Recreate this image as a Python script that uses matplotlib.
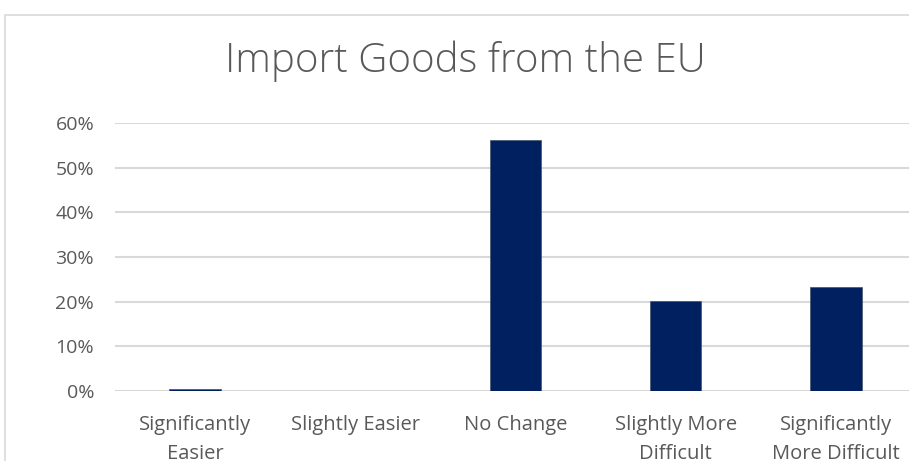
import matplotlib.pyplot as plt
from matplotlib.patches import Rectangle
from matplotlib.ticker import PercentFormatter

# data
categories = ["Significantly\nEasier", "Slightly Easier", "No Change",
              "Slightly More\nDifficult", "Significantly\nMore Difficult"]
shares = [0.005, 0.0, 0.562, 0.201, 0.233]
yticks = [0, 0.1, 0.2, 0.3, 0.4, 0.5, 0.6]

bar_color = "#002060"
text_gray = "#595959"
grid_gray = "#d9d9d9"

plt.rcParams["font.family"] = ["Open Sans", "DejaVu Sans"]

fig = plt.figure(figsize=(9.09, 4.61), dpi=100)

# chart frame (cropped at right and bottom)
fig.patches.append(Rectangle((5 / 909, -0.1), 1.0, 1 - 15 / 461 + 0.1,
                             transform=fig.transFigure, fill=False,
                             edgecolor="#d9d9d9", linewidth=1.2))

ax = fig.add_axes([115 / 909, 1 - 391 / 461, 801 / 909, (391 - 123) / 461])
x = range(len(categories))
ax.bar(x, shares, width=0.32, color=bar_color, edgecolor="#44546a",
       linewidth=0.5, zorder=3)

ax.set_xlim(-0.5, len(categories) - 0.5)
ax.set_ylim(0, 0.6)
ax.set_yticks(yticks)
ax.yaxis.set_major_formatter(PercentFormatter(1.0, decimals=0))
ax.set_xticks(list(x))
ax.set_xticklabels(categories, fontsize=14.5, color=text_gray, linespacing=1.6)
ax.tick_params(axis="y", labelsize=14, labelcolor=text_gray, length=0, pad=15)
ax.tick_params(axis="x", length=0, pad=17)

ax.grid(axis="y", color=grid_gray, linewidth=1.5, zorder=0)
for s in ax.spines.values():
    s.set_visible(False)

fig.text(465 / 909, 1 - 61 / 461, "Import Goods from the EU", ha="center",
         va="center", fontsize=29, color=text_gray, fontweight="light")

fig.savefig("out.png", dpi=100)
